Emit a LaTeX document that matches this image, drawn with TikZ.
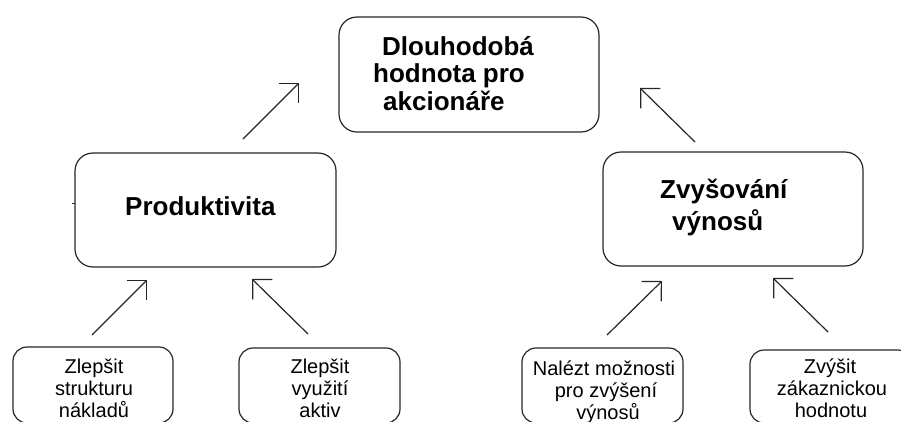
\documentclass[tikz,border=0pt]{standalone}
\usepackage{fontspec}
\setmainfont{Liberation Sans}
\usetikzlibrary{arrows.meta}
\begin{document}
\begin{tikzpicture}[x=1pt,y=-1pt,
  box/.style={draw=black!85, line width=1.2pt, rounded corners=18pt, inner sep=0pt},
  leaf/.style={box, rounded corners=14pt},
  headtxt/.style={font=\fontsize{26}{30}\selectfont\bfseries, inner sep=0pt, anchor=base west},
  subtxt/.style={font=\fontsize{20}{24}\selectfont, inner sep=0pt, anchor=base},
  link/.style={draw=black!85, line width=1.2pt,
    -{Straight Barb[length=14pt,width=28pt,line width=1.2pt]}}]
\useasboundingbox (0,0) rectangle (901,421);
\clip (0,0) rectangle (901,421);

% goal
\node[box, minimum width=260pt, minimum height=115pt] (goal) at (469,74.5) {};
\node[headtxt] (goal1) at (382,55) {Dlouhodobá};
\node[headtxt] (goal2) at (373,82) {hodnota pro};
\node[headtxt] (goal3) at (383,110) {akcionáře};

% two strategies
\node[box, minimum width=261pt, minimum height=114pt] (prod) at (205.5,210) {};
\node[headtxt] (prod1) at (125,215) {Produktivita};
\draw[line width=1pt, black!85] (72,203) -- (75,203);

\node[box, minimum width=260pt, minimum height=114pt] (grow) at (733,209) {};
\node[headtxt] (grow1) at (660,198) {Zvyšování};
\node[headtxt] (grow2) at (672,230) {výnosů};

% measures
\node[leaf, minimum width=160pt, minimum height=76pt] (m1) at (93,385) {};
\node[subtxt] (m1a) at (94,373) {Zlepšit};
\node[subtxt] (m1b) at (94,395) {strukturu};
\node[subtxt] (m1c) at (94,417) {nákladů};

\node[leaf, minimum width=161pt, minimum height=75pt] (m2) at (319.5,385.5) {};
\node[subtxt] (m2a) at (320,373) {Zlepšit};
\node[subtxt] (m2b) at (320,395) {využití};
\node[subtxt] (m2c) at (320,417) {aktiv};

\node[leaf, minimum width=161pt, minimum height=75pt] (m3) at (602.5,385.5) {};
\node[subtxt] (m3a) at (604,375) {Nalézt možnosti};
\node[subtxt] (m3b) at (606,397) {pro zvýšení};
\node[subtxt] (m3c) at (608,419) {výnosů};

\node[leaf, minimum width=162pt, minimum height=73pt] (m4) at (831,386.5) {};
\node[subtxt] (m4a) at (830,373) {Zvýšit};
\node[subtxt] (m4b) at (832,395) {zákaznickou};
\node[subtxt] (m4c) at (831,417) {hodnotu};

% arrow ends
\coordinate (a1s) at (243,139); \coordinate (a1e) at (299,83);
\coordinate (a2s) at (695,142); \coordinate (a2e) at (640,88);
\coordinate (a3s) at (92,335);  \coordinate (a3e) at (147,280);
\coordinate (a4s) at (308,334); \coordinate (a4e) at (252,279);
\coordinate (a5s) at (607,335); \coordinate (a5e) at (662,281);
\coordinate (a6s) at (828,332); \coordinate (a6e) at (773,278);

\draw[link] (a1s) -- (a1e);
\draw[link] (a2s) -- (a2e);
\draw[link] (a3s) -- (a3e);
\draw[link] (a4s) -- (a4e);
\draw[link] (a5s) -- (a5e);
\draw[link] (a6s) -- (a6e);
\end{tikzpicture}
\end{document}
